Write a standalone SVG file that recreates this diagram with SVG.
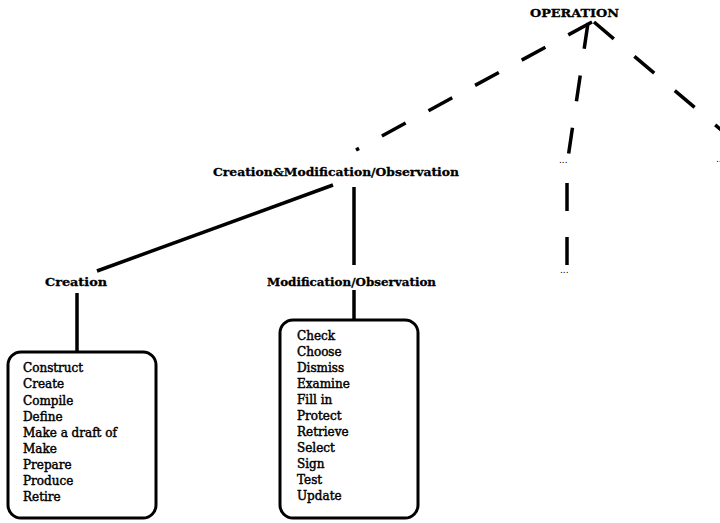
<svg xmlns="http://www.w3.org/2000/svg" width="720" height="523" viewBox="0 0 720 523">
<style>
.lbl{font-family:"DejaVu Serif","Liberation Serif",serif;font-weight:bold;font-size:11.5px;fill:#000;stroke:#000;stroke-width:0.3}
.item{font-family:"DejaVu Serif","Liberation Serif",serif;font-size:12px;fill:#000;stroke:#000;stroke-width:0.45}
.dots{font-family:"DejaVu Serif","Liberation Serif",serif;font-size:9px;fill:#000}
.solid{stroke:#000;stroke-width:3.5;fill:none;stroke-linecap:butt}
.dash{stroke:#000;stroke-width:3.5;fill:none;stroke-dasharray:27 26}
.box{stroke:#000;stroke-width:3;fill:#fff}
</style>
<rect width="720" height="523" fill="#fff"/>
<g id="connectors">
<line class="dash" x1="592" y1="22" x2="356" y2="150"/>
<line class="dash" x1="588" y1="23" x2="568" y2="158" style="stroke-dasharray:26 27"/>
<line class="dash" x1="594" y1="22" x2="740" y2="146" style="stroke-dasharray:26 27"/>
<line class="dash" x1="567" y1="183" x2="567" y2="265" style="stroke-dasharray:28 26"/>
<line class="solid" x1="333" y1="185" x2="97" y2="271"/>
<line class="solid" x1="354" y1="187" x2="354" y2="265"/>
<line class="solid" x1="354" y1="290" x2="354" y2="320"/>
<line class="solid" x1="77" y1="293" x2="77" y2="352"/>
</g>
<g id="operation"><text class="lbl" x="530" y="17" textLength="89" lengthAdjust="spacingAndGlyphs">OPERATION</text></g>
<g id="creation-modification"><text class="lbl" x="213" y="176" textLength="246" lengthAdjust="spacingAndGlyphs">Creation&amp;Modification/Observation</text></g>
<g id="ellipsis-1"><text class="dots" x="559" y="163">...</text></g>
<g id="ellipsis-2"><text class="dots" x="560" y="273">...</text></g>
<g id="ellipsis-3"><text class="dots" x="716" y="162">...</text></g>
<g id="creation"><text class="lbl" x="45" y="286" textLength="62" lengthAdjust="spacingAndGlyphs">Creation</text></g>
<g id="modification-observation"><text class="lbl" x="267" y="286" textLength="169" lengthAdjust="spacingAndGlyphs">Modification/Observation</text></g>
<g id="creation-list">
<rect class="box" x="8" y="352" width="148" height="166" rx="13"/>
<text class="item" x="23" y="372">Construct</text>
<text class="item" x="23" y="388">Create</text>
<text class="item" x="23" y="404.5">Compile</text>
<text class="item" x="23" y="420.5">Define</text>
<text class="item" x="23" y="436.5">Make a draft of</text>
<text class="item" x="23" y="452.5">Make</text>
<text class="item" x="23" y="468.5">Prepare</text>
<text class="item" x="23" y="484.5">Produce</text>
<text class="item" x="23" y="500.5">Retire</text>
</g>
<g id="modification-list">
<rect class="box" x="280" y="320" width="138" height="198" rx="13"/>
<text class="item" x="297" y="340">Check</text>
<text class="item" x="297" y="356">Choose</text>
<text class="item" x="297" y="372">Dismiss</text>
<text class="item" x="297" y="388">Examine</text>
<text class="item" x="297" y="404">Fill in</text>
<text class="item" x="297" y="420">Protect</text>
<text class="item" x="297" y="436">Retrieve</text>
<text class="item" x="297" y="452">Select</text>
<text class="item" x="297" y="468">Sign</text>
<text class="item" x="297" y="484">Test</text>
<text class="item" x="297" y="500">Update</text>
</g>
</svg>
